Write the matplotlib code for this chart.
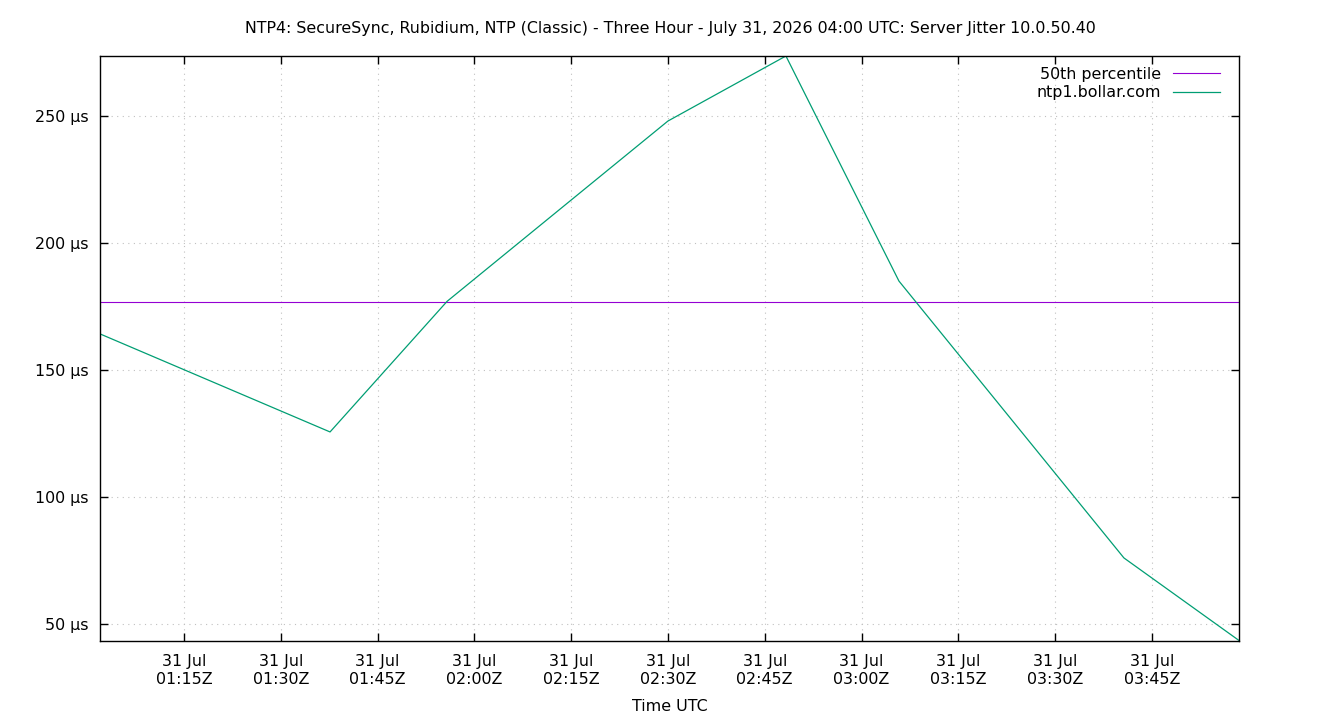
import datetime as dt

import matplotlib
matplotlib.use('Agg')
import matplotlib.pyplot as plt

# sample times (UTC, 31 Jul 2026) and server jitter in microseconds
times = ['01:01:59', '01:37:38', '01:55:46', '02:30:00', '02:48:17',
         '03:05:48', '03:40:40', '03:58:30']
jitter_us = [164.2, 125.6, 177.0, 248.0, 273.6, 185.0, 76.0, 43.5]
median_us = 176.8

x_ticks = ['01:15', '01:30', '01:45', '02:00', '02:15', '02:30',
           '02:45', '03:00', '03:15', '03:30', '03:45']
y_ticks = [50, 100, 150, 200, 250]

title = ('NTP4: SecureSync, Rubidium, NTP (Classic) - Three Hour - '
         'July 31, 2026 04:00 UTC: Server Jitter 10.0.50.40')


def to_dt(hms):
    parts = [int(p) for p in hms.split(':')] + [0]
    return dt.datetime(2026, 7, 31, parts[0], parts[1], parts[2])


xs = [to_dt(t) for t in times]

fs = 11.4
plt.rcParams['font.family'] = 'DejaVu Sans'
plt.rcParams['font.size'] = fs

fig = plt.figure(figsize=(13.4, 7.2), dpi=100)
ax = fig.add_axes([100 / 1340, 1 - 641 / 720, 1139 / 1340, 585 / 720])

ax.axhline(median_us, color='#9400d3', linewidth=0.8, label='50th percentile')
ax.plot(xs, jitter_us, color='#009e73', linewidth=0.9, label='ntp1.bollar.com')

ax.set_xlim(xs[0], xs[-1])
ax.set_ylim(43.3, 273.6)

ax.set_xticks([to_dt(t) for t in x_ticks])
ax.set_xticklabels([f'31 Jul\n{t}Z' for t in x_ticks])
ax.set_yticks(y_ticks)
ax.set_yticklabels([f'{v} µs' for v in y_ticks])

ax.tick_params(direction='in', length=6, width=1, top=True, right=True,
               labelsize=fs, pad=9.5)
ax.tick_params(axis='y', pad=8)
ax.grid(True, linestyle=(0, (1, 4)), linewidth=0.8, color='#c0c0c0')
for s in ax.spines.values():
    s.set_linewidth(1)

ax.set_xlabel('Time UTC', fontsize=fs, labelpad=9)
fig.text(0.5, 1 - 28 / 720, title, ha='center', va='center', fontsize=fs)

leg = ax.legend(loc='upper right', bbox_to_anchor=(1, 1 + 8 / 585),
                frameon=False, markerfirst=False,
                handlelength=3.0, fontsize=fs, borderaxespad=0.9,
                borderpad=0.3, labelspacing=0.2, handletextpad=0.7)
for t in leg.get_texts():
    t.set_ha('right')

fig.savefig('out.png', dpi=100)
